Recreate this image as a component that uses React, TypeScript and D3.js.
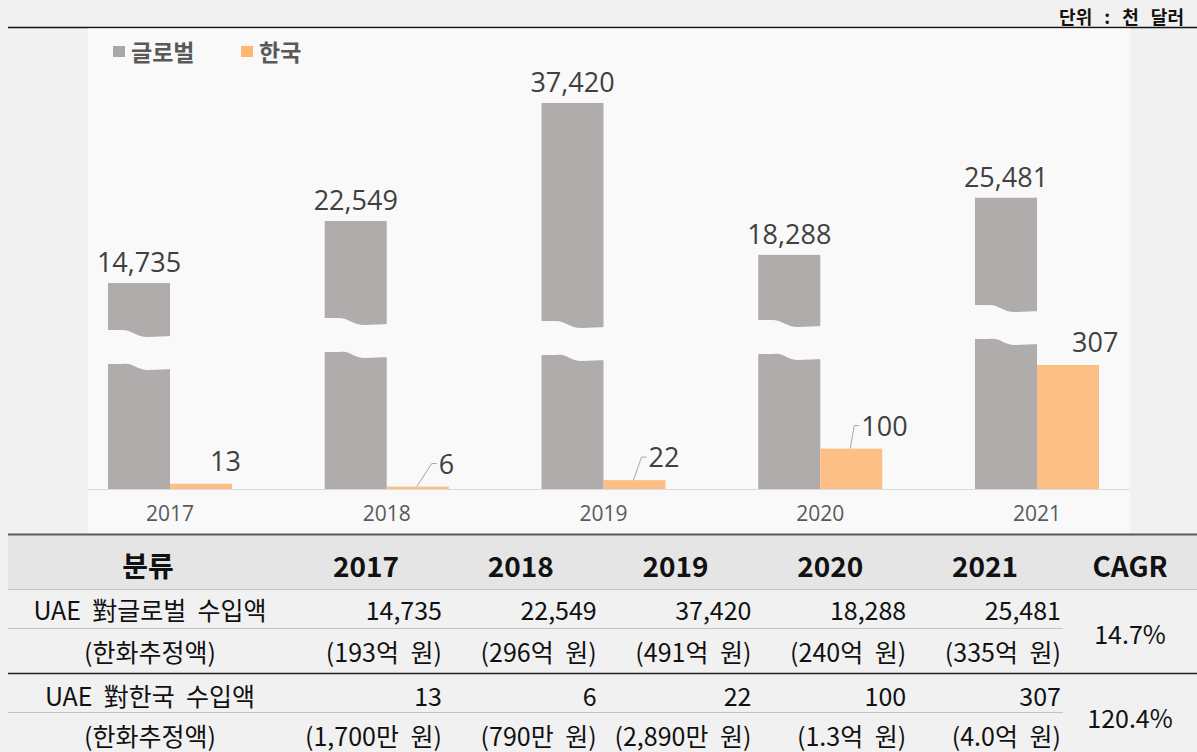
import React from "react";
import * as d3 from "d3";

// 데이터 (단위: 천 달러)
const years = ["2017", "2018", "2019", "2020", "2021"];
const globalValues = [14735, 22549, 37420, 18288, 25481];
const koreaValues = [13, 6, 22, 100, 307];
const globalKrw = ["(193억 원)", "(296억 원)", "(491억 원)", "(240억 원)", "(335억 원)"];
const koreaKrw = ["(1,700만 원)", "(790만 원)", "(2,890만 원)", "(1.3억 원)", "(4.0억 원)"];
const cagrValues = ["14.7%", "120.4%"];
const rowLabels = ["UAE  對글로벌  수입액", "(한화추정액)", "UAE  對한국  수입액", "(한화추정액)"];
const legendItems = ["글로벌", "한국"];

// 스타일/레이아웃
const W = 1197, H = 752;
const baseY = 489;
const barW = 62;
const grayColor = "#b0acac";
const orangeColor = "#fdbf85";
const breakTops = [330, 318, 321, 320, 305];
const koreaLabelDx = [9, 21, 14, 10, 4];
const koreaLeader = [false, true, true, true, false];
const rowBaselines = [620, 662, 706, 746];
const chartFont = "'Open Sans', 'Noto Sans CJK KR', sans-serif";
const krFont = "'Noto Sans CJK KR', 'Noto Sans', sans-serif";

export default function App() {
  const x = d3.scalePoint<string>().domain(years).range([170, 1037]);
  // 물결 생략(broken axis) 막대: 0이 기준선 위 89px에서 시작
  const yGlobal = d3.scaleLinear().domain([0, 37420]).range([baseY - 89, 103]);
  const yKorea = d3.scaleLinear().domain([0, 307]).range([baseY, 365]);
  const fmt = d3.format(",");

  const colX = d3.scalePoint<string>().domain(years).range([366, 985]);

  const breakPath = (left: number, top: number) => {
    const gap = 34;
    const r = left + barW;
    const b = top + gap;
    return `M${left - 4},${top} L${left + 14},${top} C${left + 24},${top} ${left + 28},${top + 7} ${left + 40},${top + 7}` +
      ` L${r + 3},${top + 6} L${r + 3},${b + 5} L${left + 40},${b + 6}` +
      ` C${left + 28},${b + 6} ${left + 26},${b - 2} ${left + 14},${b} L${left - 4},${b} Z`;
  };

  return (
    <svg width={W} height={H} style={{ position: "absolute", left: 0, top: 0 }}>
      <rect x={0} y={0} width={W} height={H} fill="#f1f1f1" />

      {/* 단위 */}
      <text x={1184} y={24} textAnchor="end" fontFamily={krFont} fontWeight={700} fontSize={18} wordSpacing={8} fill="#111">단위 : 천 달러</text>
      <line x1={8} x2={W} y1={27.5} y2={27.5} stroke="#111" strokeWidth={1.5} />

      {/* 차트 영역 */}
      <rect x={88} y={28.5} width={1042} height={505} fill="#f9f9f9" />

      {/* 범례 */}
      {legendItems.map((name, i) => (
        <g key={name} transform={`translate(${113 + i * 128},0)`}>
          <rect x={0} y={46} width={12} height={11} fill={i === 0 ? "#a8a8a8" : "#ffb774"} />
          <text x={18} y={61} fontFamily={krFont} fontWeight={700} fontSize={23} fill="#595959">{name}</text>
        </g>
      ))}

      <line x1={88} x2={1130} y1={baseY + 0.5} y2={baseY + 0.5} stroke="#dadada" strokeWidth={1} />

      {years.map((yr, i) => {
        const cx = x(yr)!;
        const gTop = yGlobal(globalValues[i]);
        const kTop = yKorea(koreaValues[i]);
        const kCx = cx + barW / 2;
        const lx = kCx + koreaLabelDx[i];
        const ly = kTop - 13;
        return (
          <g key={yr}>
            <rect x={cx - barW} y={gTop} width={barW} height={baseY - gTop} fill={grayColor} />
            <path d={breakPath(cx - barW, breakTops[i])} fill="#f9f9f9" />
            <rect x={cx} y={kTop} width={barW} height={baseY - kTop} fill={orangeColor} />
            <text x={cx - barW / 2} y={gTop - 11} textAnchor="middle" fontFamily={chartFont} fontSize={27} fill="#404040">
              {fmt(globalValues[i])}
            </text>
            {koreaLeader[i] && (
              <polyline
                points={`${kCx - 1},${kTop} ${lx - 7},${ly - 10} ${lx - 2},${ly - 10}`}
                fill="none" stroke="#a6a6a6" strokeWidth={1} />
            )}
            <text x={lx} y={ly} fontFamily={chartFont} fontSize={27} fill="#404040">{fmt(koreaValues[i])}</text>
            <text x={cx} y={521} textAnchor="middle" fontFamily={chartFont} fontSize={21} fill="#595959">{yr}</text>
          </g>
        );
      })}

      {/* 표 */}
      <rect x={8} y={535} width={W - 8} height={54} fill="#e5e5e5" />
      <line x1={8} x2={W} y1={534.5} y2={534.5} stroke="#5a5a5a" strokeWidth={2} />
      <line x1={8} x2={W} y1={589.5} y2={589.5} stroke="#c4c4c4" strokeWidth={1} />
      <line x1={8} x2={1063} y1={628.5} y2={628.5} stroke="#c4c4c4" strokeWidth={1} />
      <line x1={8} x2={W} y1={673.5} y2={673.5} stroke="#222" strokeWidth={1.5} />
      <line x1={8} x2={1063} y1={712.5} y2={712.5} stroke="#c4c4c4" strokeWidth={1} />

      <g fontFamily={krFont} fill="#111">
        <text x={148} y={577} textAnchor="middle" fontSize={28} fontWeight={700}>분류</text>
        {years.map((yr) => (
          <text key={yr} x={colX(yr)} y={577} textAnchor="middle" fontSize={28} fontWeight={700}>{yr}</text>
        ))}
        <text x={1130} y={577} textAnchor="middle" fontSize={28} fontWeight={700}>CAGR</text>

        {rowLabels.map((lab, r) => (
          <text key={r} x={150} y={rowBaselines[r]} textAnchor="middle" fontSize={25} style={{ whiteSpace: "pre" }}>{lab}</text>
        ))}
        {years.map((yr, i) => {
          const rx = colX(yr)! + 76;
          return (
            <g key={yr} textAnchor="end" fontSize={25} wordSpacing={6}>
              <text x={rx} y={rowBaselines[0]}>{fmt(globalValues[i])}</text>
              <text x={rx} y={rowBaselines[1]}>{globalKrw[i]}</text>
              <text x={rx} y={rowBaselines[2]}>{fmt(koreaValues[i])}</text>
              <text x={rx} y={rowBaselines[3]}>{koreaKrw[i]}</text>
            </g>
          );
        })}
        <text x={1130} y={644} textAnchor="middle" fontSize={25}>{cagrValues[0]}</text>
        <text x={1130} y={728} textAnchor="middle" fontSize={25}>{cagrValues[1]}</text>
      </g>
    </svg>
  );
}
